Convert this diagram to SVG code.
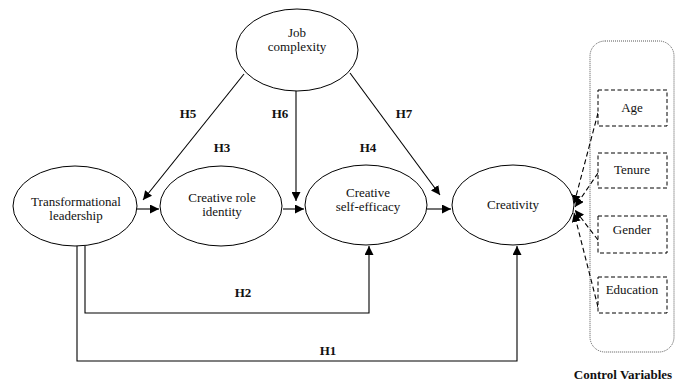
<svg xmlns="http://www.w3.org/2000/svg" width="686" height="384" viewBox="0 0 686 384">
<style>
.n{fill:#fff;stroke:#000;stroke-width:1}
.t{font-family:'Liberation Serif','DejaVu Serif',serif;font-size:13px;fill:#111;text-anchor:middle}
.h{font-family:'Liberation Serif','DejaVu Serif',serif;font-size:13px;font-weight:bold;fill:#111;text-anchor:middle}
.c{fill:none;stroke:#000;stroke-width:1.1}
.d{fill:none;stroke:#000;stroke-width:1.1;stroke-dasharray:5,3}
.b{fill:#fff;stroke:#000;stroke-width:1;stroke-dasharray:4,2.5}
</style>
<defs>
<marker id="a" viewBox="0 0 10 10" refX="10" refY="5" markerWidth="9" markerHeight="9" markerUnits="userSpaceOnUse" orient="auto">
<path d="M0,0 L10,5 L0,10 z" fill="#000"/>
</marker>
</defs>
<rect id="controlbox" x="590" y="41" width="84" height="311" rx="15" fill="none" stroke="#555" stroke-width="1" stroke-dasharray="1,1"/>
<g id="connectors">
<line class="c" x1="136" y1="209" x2="159" y2="209" marker-end="url(#a)"/>
<line class="c" x1="283" y1="209" x2="304" y2="209" marker-end="url(#a)"/>
<line class="c" x1="427" y1="209" x2="451" y2="209" marker-end="url(#a)"/>
<line class="c" x1="244" y1="74" x2="143" y2="200" marker-end="url(#a)"/>
<line class="c" x1="296" y1="90" x2="296" y2="201" marker-end="url(#a)"/>
<line class="c" x1="350" y1="73" x2="440" y2="195" marker-end="url(#a)"/>
<polyline class="c" points="85,246 85,313 369,313 369,246" marker-end="url(#a)"/>
<polyline class="c" points="77,246 77,361 517,361 517,246" marker-end="url(#a)"/>
<line class="d" x1="598" y1="113" x2="574" y2="204" marker-end="url(#a)"/>
<line class="d" x1="598" y1="173" x2="575" y2="207" marker-end="url(#a)"/>
<line class="d" x1="598" y1="240" x2="575" y2="210" marker-end="url(#a)"/>
<line class="d" x1="598" y1="307" x2="574" y2="213" marker-end="url(#a)"/>
</g>
<g id="job">
<ellipse class="n" cx="297" cy="50" rx="61" ry="41"/>
<text class="t" x="297" y="37">Job</text>
<text class="t" x="297" y="51">complexity</text>
</g>
<g id="tl">
<ellipse class="n" cx="75" cy="206" rx="62" ry="40"/>
<text class="t" x="76" y="206">Transformational</text>
<text class="t" x="76" y="220">leadership</text>
</g>
<g id="cri">
<ellipse class="n" cx="221" cy="206" rx="61" ry="40"/>
<text class="t" x="222" y="202">Creative role</text>
<text class="t" x="222" y="216">identity</text>
</g>
<g id="cse">
<ellipse class="n" cx="366" cy="205" rx="61" ry="40"/>
<text class="t" x="368" y="197">Creative</text>
<text class="t" x="368" y="211">self-efficacy</text>
</g>
<g id="creativity">
<ellipse class="n" cx="513" cy="205" rx="61" ry="40"/>
<text class="t" x="513" y="209">Creativity</text>
</g>
<g id="age">
<rect class="b" x="598" y="90" width="69" height="36"/>
<text class="t" x="632" y="112">Age</text>
</g>
<g id="tenure">
<rect class="b" x="598" y="153" width="69" height="35"/>
<text class="t" x="632" y="174">Tenure</text>
</g>
<g id="gender">
<rect class="b" x="598" y="216" width="69" height="37"/>
<text class="t" x="632" y="234">Gender</text>
</g>
<g id="education">
<rect class="b" x="598" y="277" width="69" height="36"/>
<text class="t" x="632" y="294">Education</text>
</g>
<g id="labels">
<text class="h" x="188" y="118">H5</text>
<text class="h" x="280" y="118">H6</text>
<text class="h" x="404" y="118">H7</text>
<text class="h" x="222" y="152">H3</text>
<text class="h" x="368" y="152">H4</text>
<text class="h" x="243" y="297">H2</text>
<text class="h" x="328" y="355">H1</text>
<text class="h" x="623" y="379">Control Variables</text>
</g>
</svg>
